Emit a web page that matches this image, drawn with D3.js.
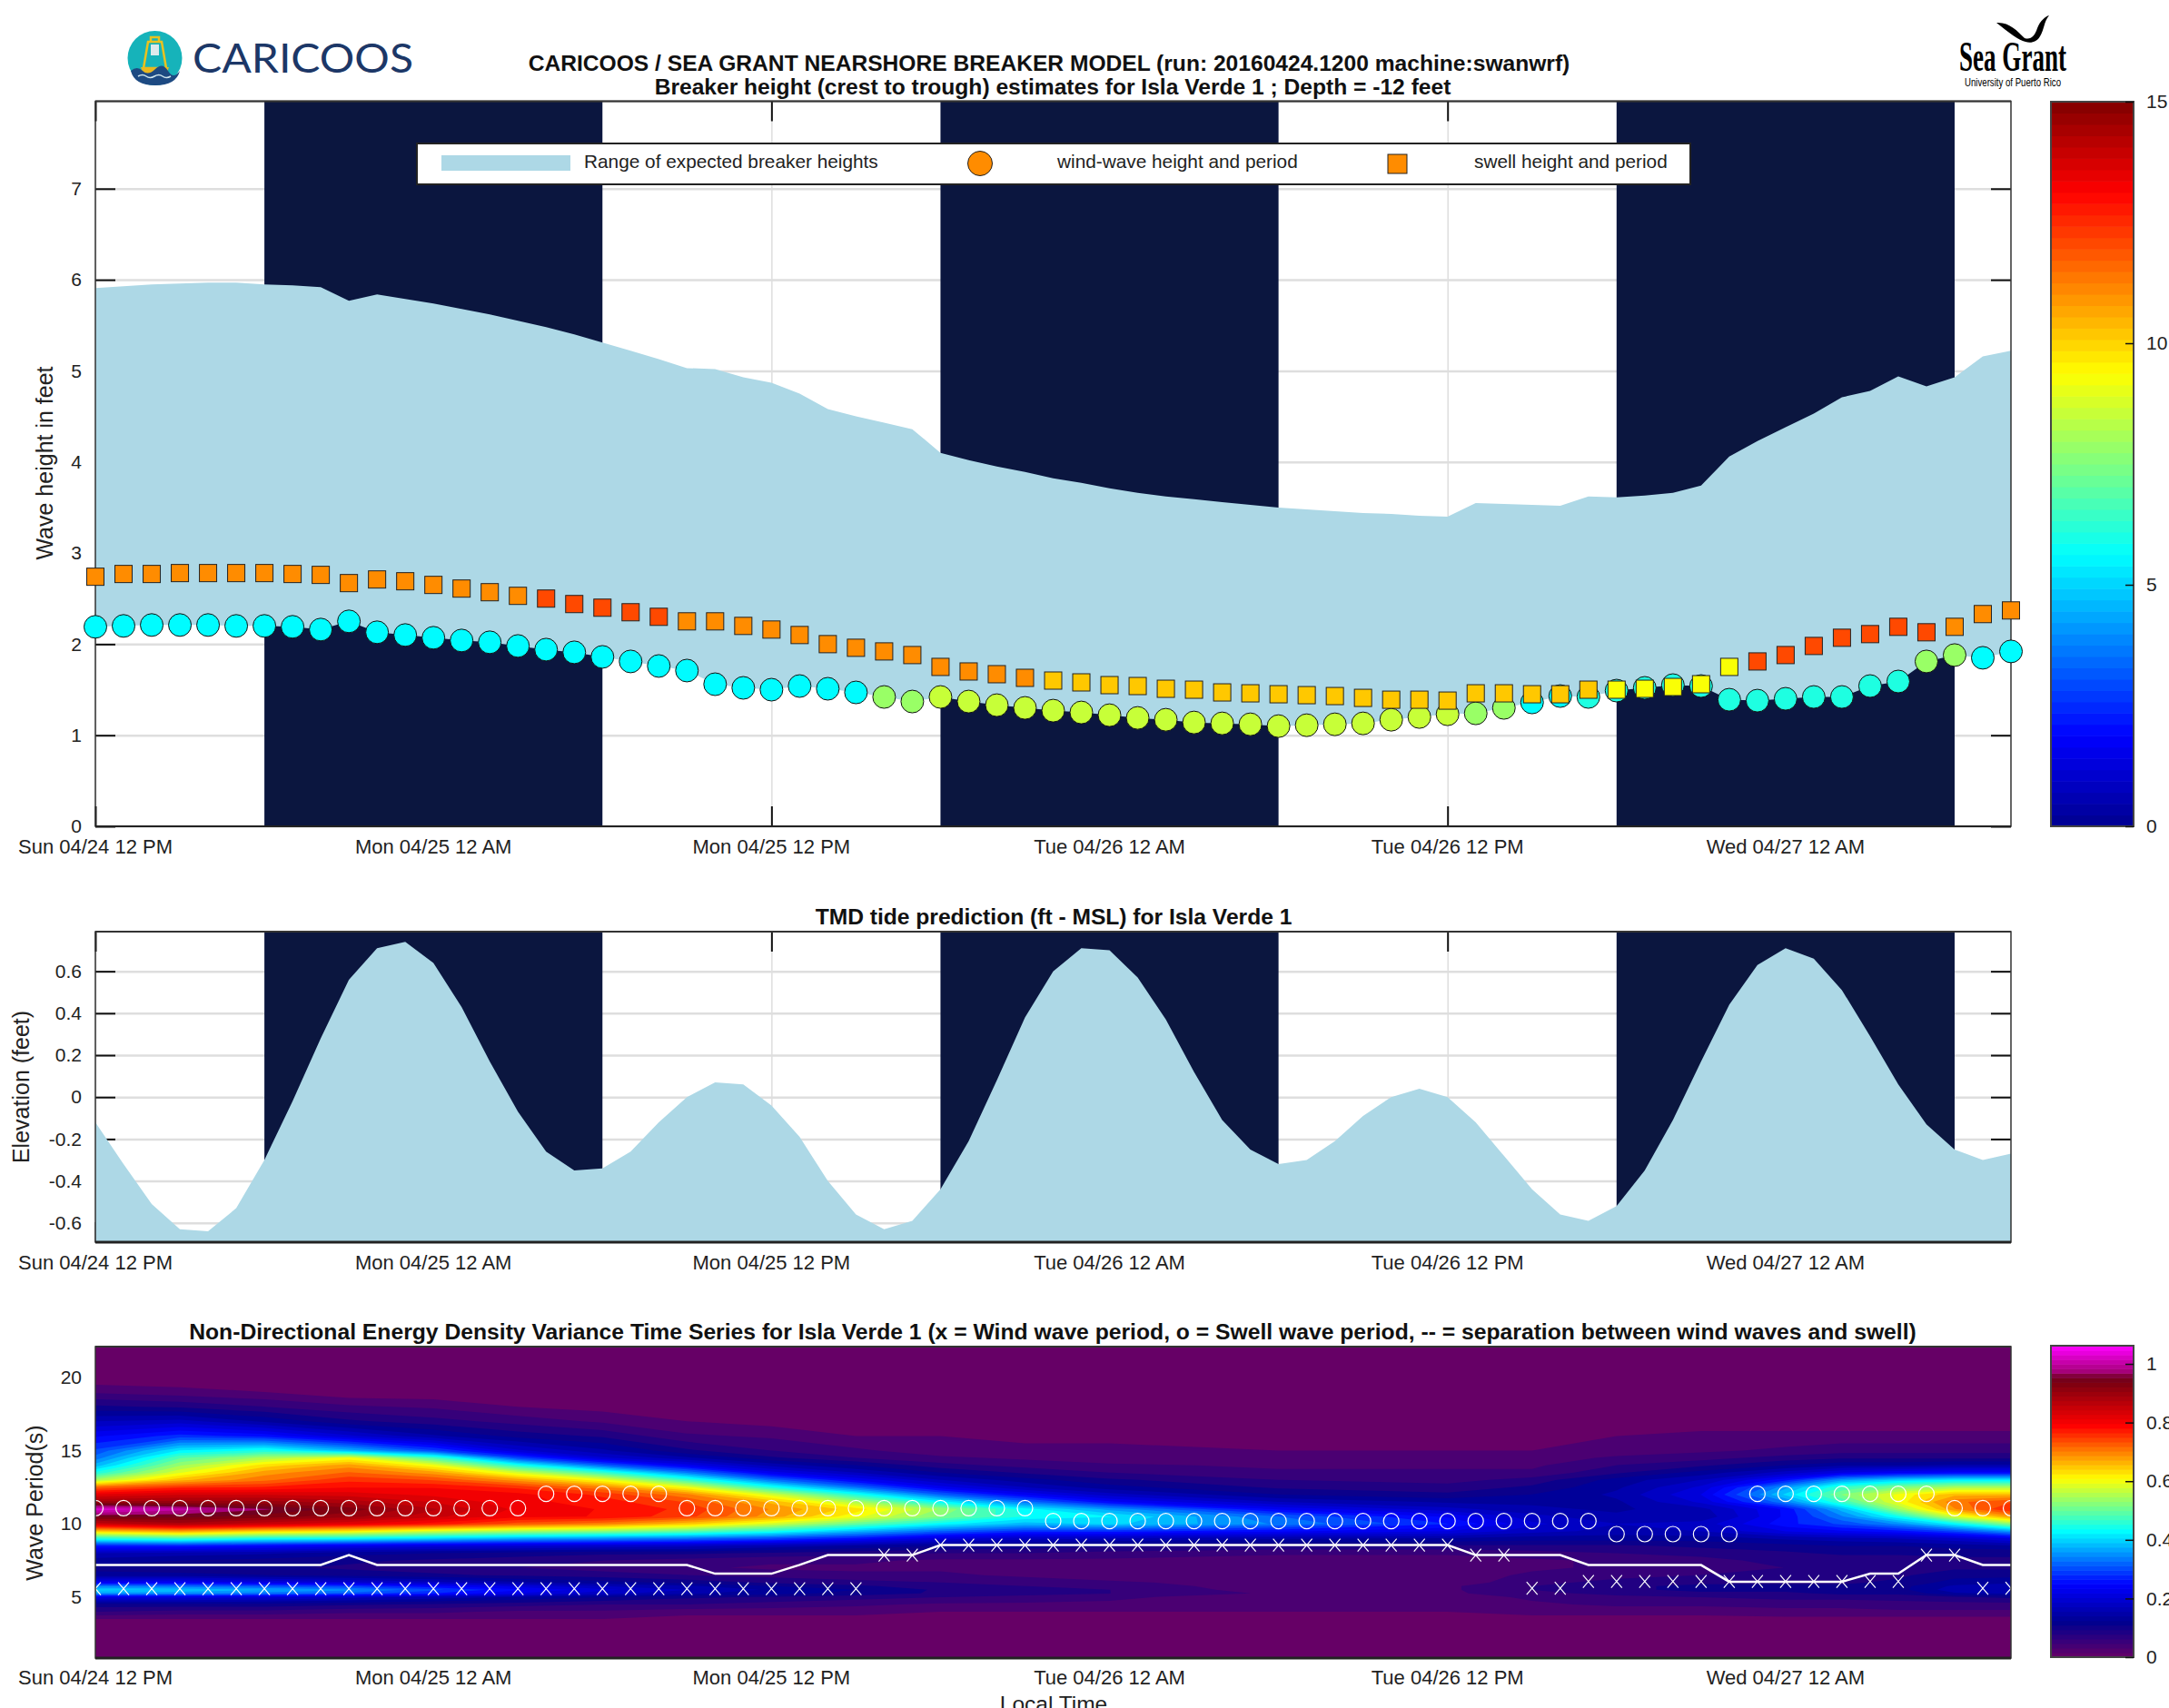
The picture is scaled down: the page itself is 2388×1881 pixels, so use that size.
<!DOCTYPE html>
<html>
<head>
<meta charset="utf-8">
<style>
body { margin: 0; background: #fff; }
text { font-family: "Liberation Sans", Arial, sans-serif; fill: #222; }
.title { font-weight: bold; fill: #111; text-anchor: middle; }
</style>
<script src="https://cdn.jsdelivr.net/npm/d3@7"></script>
</head>
<body>
<svg width="2388" height="1881"></svg>
<script>
// hourly series, hour 0 = Sun 04/24 12 PM
var breakerTop = [
  5.91,5.93,5.95,5.96,5.97,5.97,5.95,5.94,5.92,5.77,
  5.84,5.79,5.74,5.68,5.62,5.55,5.48,5.40,5.31,5.22,
  5.13,5.03,5.02,4.93,4.87,4.75,4.58,4.50,4.43,4.36,
  4.10,4.02,3.95,3.89,3.82,3.77,3.71,3.66,3.62,3.59,
  3.56,3.53,3.50,3.48,3.46,3.44,3.43,3.41,3.40,3.55,
  3.54,3.53,3.52,3.62,3.61,3.63,3.66,3.74,4.06,4.23,
  4.38,4.53,4.71,4.78,4.94,4.83,4.93,5.16,5.22];
var windHeight = [
  2.19,2.20,2.21,2.21,2.21,2.20,2.20,2.19,2.16,2.25,
  2.13,2.10,2.07,2.04,2.02,1.98,1.94,1.91,1.86,1.81,
  1.76,1.71,1.56,1.52,1.50,1.54,1.51,1.47,1.42,1.37,
  1.42,1.37,1.33,1.30,1.27,1.25,1.22,1.19,1.17,1.14,
  1.13,1.12,1.10,1.11,1.12,1.13,1.17,1.20,1.23,1.24,
  1.30,1.36,1.43,1.42,1.49,1.52,1.55,1.54,1.39,1.38,
  1.40,1.42,1.42,1.54,1.59,1.81,1.88,1.85,1.92];
var swellHeight = [
  2.74,2.77,2.77,2.78,2.78,2.78,2.78,2.77,2.76,2.67,
  2.71,2.69,2.65,2.61,2.57,2.53,2.50,2.44,2.40,2.35,
  2.30,2.25,2.25,2.20,2.16,2.10,2.00,1.96,1.92,1.88,
  1.75,1.70,1.67,1.63,1.60,1.58,1.55,1.54,1.51,1.50,
  1.47,1.46,1.45,1.44,1.43,1.41,1.39,1.39,1.38,1.46,
  1.46,1.45,1.45,1.50,1.50,1.51,1.53,1.56,1.75,1.81,
  1.88,1.98,2.07,2.11,2.19,2.13,2.19,2.33,2.37];
var tide = [
  -0.12,-0.32,-0.51,-0.63,-0.64,-0.53,-0.30,-0.02,0.28,0.56,
  0.71,0.74,0.64,0.43,0.17,-0.07,-0.26,-0.35,-0.34,-0.26,
  -0.12,0,0.07,0.06,-0.04,-0.19,-0.40,-0.56,-0.63,-0.59,
  -0.44,-0.21,0.08,0.38,0.60,0.71,0.70,0.57,0.37,0.12,
  -0.11,-0.25,-0.32,-0.30,-0.21,-0.09,0,0.04,0,-0.12,
  -0.28,-0.44,-0.56,-0.59,-0.52,-0.35,-0.11,0.17,0.44,0.63,
  0.71,0.66,0.51,0.29,0.06,-0.13,-0.25,-0.30,-0.27];
var swellPeriod = [
  11.07,11.07,11.07,11.07,11.07,11.07,11.07,11.07,11.07,11.07,
  11.07,11.07,11.07,11.07,11.07,11.07,12.05,12.05,12.05,12.05,
  12.05,11.07,11.07,11.07,11.07,11.07,11.07,11.07,11.07,11.07,
  11.07,11.07,11.07,11.07,10.19,10.19,10.19,10.19,10.19,10.19,
  10.19,10.19,10.19,10.19,10.19,10.19,10.19,10.19,10.19,10.19,
  10.19,10.19,10.19,10.19,9.3,9.3,9.3,9.3,9.3,12.05,
  12.05,12.05,12.05,12.05,12.05,12.05,11.07,11.07,11.07];
var windPeriod = [
  5.58,5.58,5.58,5.58,5.58,5.58,5.58,5.58,5.58,5.58,
  5.58,5.58,5.58,5.58,5.58,5.58,5.58,5.58,5.58,5.58,
  5.58,5.58,5.58,5.58,5.58,5.58,5.58,5.58,7.87,7.87,
  8.55,8.55,8.55,8.55,8.55,8.55,8.55,8.55,8.55,8.55,
  8.55,8.55,8.55,8.55,8.55,8.55,8.55,8.55,8.55,7.87,
  7.87,5.6,5.6,6.07,6.07,6.07,6.07,6.07,6.07,6.07,
  6.07,6.07,6.07,6.07,6.07,7.87,7.87,5.6,5.6];
var separation = [
  7.19,7.19,7.19,7.19,7.19,7.19,7.19,7.19,7.19,7.87,
  7.19,7.19,7.19,7.19,7.19,7.19,7.19,7.19,7.19,7.19,
  7.19,7.19,6.6,6.6,6.6,7.2,7.87,7.87,7.87,7.87,
  8.55,8.55,8.55,8.55,8.55,8.55,8.55,8.55,8.55,8.55,
  8.55,8.55,8.55,8.55,8.55,8.55,8.55,8.55,8.55,7.87,
  7.87,7.87,7.87,7.19,7.19,7.19,7.19,7.19,6.05,6.05,
  6.05,6.05,6.05,6.6,6.6,7.87,7.87,7.19,7.19];

var xTickHours = [0, 12, 24, 36, 48, 60];
var xTickLabels = ["Sun 04/24 12 PM", "Mon 04/25 12 AM", "Mon 04/25 12 PM", "Tue 04/26 12 AM", "Tue 04/26 12 PM", "Wed 04/27 12 AM"];
var nights = [[6, 18], [30, 42], [54, 66]];
var heightTicks = [0, 1, 2, 3, 4, 5, 6, 7];
var tideTicks = [-0.6, -0.4, -0.2, 0, 0.2, 0.4, 0.6];
var periodTicks = [5, 10, 15, 20];

// energy density: one row per spectrum column, one value per entry of specPeriods
var specHours = [0, 3, 6, 9, 12, 15, 18, 21, 24, 27, 30, 33, 36, 42, 48, 51, 54, 57, 60, 62, 64, 66, 68];
var specPeriods = [1, 3, 3.5, 4, 4.5, 5, 5.25, 5.5, 5.75, 6, 6.5, 7, 7.5, 8, 8.5, 9, 9.5, 10, 10.5, 11, 11.5, 12, 12.5, 13, 13.5, 14, 14.5, 15, 16, 17, 18, 19, 20, 22];
var spectrum = [
  [0,0,.02,.07,.11,.22,.36,.4,.34,.24,.13,.11,.13,.17,.27,.45,.65,.85,.95,1.03,.9,.82,.72,.55,.45,.38,.33,.3,.24,.17,.1,.04,0,0],
  [0,0,.02,.06,.11,.21,.35,.39,.33,.24,.13,.1,.12,.16,.27,.47,.68,.88,.95,1,.9,.84,.76,.66,.59,.54,.49,.42,.28,.18,.09,.03,0,0],
  [0,0,.02,.06,.11,.2,.33,.37,.31,.22,.12,.1,.11,.15,.25,.44,.64,.85,.93,.97,.9,.84,.77,.71,.68,.63,.55,.45,.26,.14,.07,.02,0,0],
  [0,0,.02,.05,.1,.18,.31,.35,.29,.2,.11,.09,.1,.13,.23,.43,.62,.82,.9,.93,.88,.83,.79,.76,.72,.68,.6,.38,.2,.1,.05,0,0,0],
  [0,0,.02,.05,.09,.16,.27,.3,.25,.18,.1,.08,.09,.12,.21,.4,.58,.78,.85,.87,.84,.81,.79,.74,.68,.6,.48,.3,.15,.08,.04,0,0,0],
  [0,0,.02,.04,.08,.14,.22,.25,.21,.15,.09,.07,.08,.11,.2,.37,.55,.73,.8,.81,.8,.8,.76,.68,.58,.45,.3,.2,.11,.06,.02,0,0,0],
  [0,0,.02,.04,.07,.12,.18,.2,.17,.13,.08,.06,.07,.1,.19,.35,.53,.7,.79,.79,.78,.76,.7,.6,.47,.32,.2,.15,.09,.04,.01,0,0,0],
  [0,0,.01,.03,.07,.1,.15,.17,.15,.11,.07,.05,.06,.1,.18,.33,.5,.65,.75,.76,.74,.7,.6,.47,.34,.23,.15,.1,.05,.02,0,0,0,0],
  [0,0,.01,.03,.06,.09,.13,.14,.12,.09,.06,.04,.05,.09,.16,.3,.45,.58,.68,.69,.66,.58,.45,.33,.23,.16,.1,.07,.04,.01,0,0,0,0],
  [0,0,.01,.03,.05,.08,.11,.12,.1,.08,.05,.04,.05,.08,.14,.26,.38,.5,.6,.63,.55,.45,.33,.24,.17,.12,.07,.05,.02,0,0,0,0,0],
  [0,0,.01,.02,.04,.07,.09,.09,.08,.07,.05,.04,.04,.07,.12,.21,.32,.43,.52,.54,.43,.32,.23,.17,.12,.08,.05,.03,.02,0,0,0,0,0],
  [0,0,.01,.02,.04,.06,.08,.08,.07,.06,.04,.03,.04,.07,.11,.18,.28,.38,.44,.43,.33,.24,.17,.13,.09,.06,.04,.03,.01,0,0,0,0,0],
  [0,0,.01,.02,.04,.05,.07,.07,.06,.05,.03,.03,.04,.06,.1,.17,.28,.4,.42,.36,.25,.18,.13,.1,.07,.05,.03,.03,.01,0,0,0,0,0],
  [0,0,.01,.02,.03,.03,.04,.03,.03,.03,.02,.02,.03,.05,.09,.15,.25,.34,.32,.24,.17,.12,.09,.07,.05,.04,.03,.02,.01,0,0,0,0,0],
  [0,0,.01,.02,.03,.03,.04,.04,.04,.03,.03,.03,.03,.05,.09,.14,.22,.27,.24,.18,.14,.1,.08,.06,.05,.04,.03,.02,.01,0,0,0,0,0],
  [0,0,.01,.03,.04,.05,.06,.07,.07,.06,.05,.04,.04,.06,.09,.13,.18,.2,.18,.15,.14,.12,.1,.08,.05,.04,.03,.02,.01,0,0,0,0,0],
  [0,0,.01,.03,.05,.06,.08,.09,.09,.08,.06,.05,.05,.07,.09,.13,.16,.17,.15,.14,.14,.15,.14,.13,.09,.07,.05,.03,.02,0,0,0,0,0],
  [0,0,.01,.03,.05,.07,.09,.1,.1,.09,.07,.06,.06,.08,.1,.13,.17,.18,.15,.16,.2,.22,.2,.17,.13,.09,.06,.04,.03,0,0,0,0,0],
  [0,0,.01,.04,.05,.08,.09,.1,.1,.09,.08,.07,.08,.09,.11,.15,.22,.26,.25,.25,.34,.4,.36,.26,.18,.12,.08,.05,.03,0,0,0,0,0],
  [0,0,.01,.04,.05,.08,.1,.1,.1,.09,.08,.08,.08,.1,.12,.16,.24,.3,.34,.38,.47,.52,.47,.36,.22,.14,.09,.06,.03,0,0,0,0,0],
  [0,0,.01,.04,.06,.08,.1,.11,.11,.1,.09,.08,.08,.1,.12,.17,.26,.35,.44,.54,.6,.6,.52,.4,.24,.14,.09,.06,.03,0,0,0,0,0],
  [0,0,.01,.04,.06,.09,.14,.16,.15,.13,.11,.09,.09,.1,.13,.19,.3,.43,.58,.69,.71,.66,.55,.42,.25,.15,.09,.06,.03,0,0,0,0,0],
  [0,0,.01,.04,.06,.1,.15,.17,.16,.14,.11,.09,.09,.1,.14,.22,.36,.53,.68,.77,.74,.66,.55,.42,.25,.15,.09,.06,.03,0,0,0,0,0]
];

var svg = d3.select("svg");
var left = 105, right = 2214;
var x = d3.scaleLinear().domain([0, 68]).range([left, right]);
var hours = d3.range(breakerTop.length);

var yHeight = d3.scaleLinear().domain([0, 7.96]).range([910, 111.5]);
var yTide = d3.scaleLinear().domain([-0.692, 0.789]).range([1368, 1026]);
var yPeriod = d3.scaleLinear().domain([0.84, 22.1]).range([1826, 1483]);

// jet colormap as matlab draws it
var jet = d3.scaleLinear()
  .domain([0, 0.125, 0.375, 0.625, 0.875, 1])
  .range(["#00008f", "#0000ff", "#00ffff", "#ffff00", "#ff0000", "#800000"]);
var specColor = d3.scaleLinear()
  .domain([0, 0.05, 0.12, 0.25, 0.43, 0.52, 0.61, 0.7, 0.79, 0.93, 0.955, 0.97, 1.06])
  .range(["#660066", "#3c0078", "#00008f", "#0000ff", "#00ffff", "#80ff80", "#ffff00", "#ff8000", "#ff0000", "#800010", "#700020", "#a00070", "#ff00ff"]);
function periodColor(p) { return jet(p / 15); }

function axes(yScale, ticks) {
  var g = svg.append("g");
  var fmt = function(d) { return String(d); };
  // grid sits under everything else
  g.append("g").call(d3.axisLeft(yScale).tickValues(ticks).tickSize(-(right - left)).tickFormat(""))
    .attr("transform", "translate(" + left + ",0)")
    .call(function(a) {
      a.select(".domain").remove();
      a.selectAll("line").attr("stroke", "#dedede").attr("stroke-width", 2.5);
    });
  var top = yScale.range()[1], bottom = yScale.range()[0];
  g.append("g").call(d3.axisBottom(x).tickValues(xTickHours).tickSize(-(bottom - top)).tickFormat(""))
    .attr("transform", "translate(0," + bottom + ")")
    .call(function(a) {
      a.select(".domain").remove();
      a.selectAll("line").attr("stroke", "#dedede").attr("stroke-width", 1.5);
    });
  var ticksG = [
    [d3.axisLeft(yScale).tickValues(ticks).tickFormat(fmt), left, 0],
    [d3.axisRight(yScale).tickValues(ticks).tickFormat(""), right, 0],
    [d3.axisBottom(x).tickValues(xTickHours).tickFormat(""), 0, bottom],
    [d3.axisTop(x).tickValues(xTickHours).tickFormat(""), 0, top]
  ];
  ticksG.forEach(function(t) {
    g.append("g").attr("transform", "translate(" + t[1] + "," + t[2] + ")")
      .call(t[0].tickSizeInner(-22).tickSizeOuter(0).tickPadding(15))
      .call(function(a) {
        a.select(".domain").remove();
        a.selectAll("line").attr("stroke", "#111").attr("stroke-width", 2);
        a.selectAll("text").attr("font-size", 21).attr("font-family", "Liberation Sans").attr("fill", "#222");
      });
  });
}

function nightBands(yScale) {
  svg.append("g").selectAll("rect").data(nights).enter().append("rect")
    .attr("x", function(d) { return x(d[0]); })
    .attr("width", function(d) { return x(d[1]) - x(d[0]); })
    .attr("y", yScale.range()[1])
    .attr("height", yScale.range()[0] - yScale.range()[1])
    .attr("fill", "#0b163f");
}

function frame(yScale, extraBottom) {
  var top = yScale.range()[1], bottom = yScale.range()[0];
  svg.append("rect").attr("x", left).attr("y", top)
    .attr("width", right - left).attr("height", bottom - top)
    .attr("fill", "none").attr("stroke", "#333").attr("stroke-width", 1.5);
  svg.append("line").attr("x1", left).attr("x2", right).attr("y1", top).attr("y2", top)
    .attr("stroke", "#333").attr("stroke-width", 2);
  svg.append("line").attr("x1", left).attr("x2", right).attr("y1", bottom).attr("y2", bottom)
    .attr("stroke", "#222").attr("stroke-width", extraBottom);
}

function xLabels(baseline) {
  svg.append("g").selectAll("text").data(xTickHours).enter().append("text")
    .attr("x", function(d) { return x(d); })
    .attr("y", baseline)
    .attr("text-anchor", "middle")
    .attr("font-size", 22)
    .text(function(d, i) { return xTickLabels[i]; });
}

function yTitle(txt, cx, cy) {
  svg.append("text")
    .attr("transform", "translate(" + cx + "," + cy + ") rotate(-90)")
    .attr("text-anchor", "middle")
    .attr("font-size", 25)
    .text(txt);
}

function colorbar(top, bottom, domainTop, colorFn, steps, ticks, fmt) {
  var barX = 2258, barW = 91;
  var y = d3.scaleLinear().domain([0, domainTop]).range([bottom, top]);
  var edges = d3.range(steps + 1).map(function(i) { return i * domainTop / steps; });
  svg.append("g").selectAll("rect").data(edges.slice(0, -1)).enter().append("rect")
    .attr("x", barX).attr("width", barW)
    .attr("y", function(d, i) { return y(edges[i + 1]); })
    .attr("height", function(d, i) { return y(edges[i]) - y(edges[i + 1]) + 0.6; })
    .attr("fill", function(d, i) { return colorFn((edges[i] + edges[i + 1]) / 2); });
  svg.append("rect").attr("x", barX).attr("y", top).attr("width", barW).attr("height", bottom - top)
    .attr("fill", "none").attr("stroke", "#444").attr("stroke-width", 2);
  svg.append("g").attr("transform", "translate(" + (barX + barW) + ",0)")
    .call(d3.axisRight(y).tickValues(ticks).tickFormat(fmt).tickSizeInner(-9).tickSizeOuter(0).tickPadding(14))
    .call(function(a) {
      a.select(".domain").remove();
      a.selectAll("line").attr("stroke", "#111").attr("stroke-width", 1.5);
      a.selectAll("text").attr("font-size", 21).attr("font-family", "Liberation Sans").attr("fill", "#222");
    });
}

// ---- panel 1: breaker heights
axes(yHeight, heightTicks);
nightBands(yHeight);

var breakerArea = d3.area()
  .x(function(d) { return x(d); })
  .y0(function(d) { return yHeight(windHeight[d]); })
  .y1(function(d) { return yHeight(breakerTop[d]); });
svg.append("path").attr("d", breakerArea(hours)).attr("fill", "lightblue");
frame(yHeight, 2);

svg.append("g").selectAll("circle").data(hours).enter().append("circle")
  .attr("cx", function(d) { return x(d); })
  .attr("cy", function(d) { return yHeight(windHeight[d]); })
  .attr("r", 12.5)
  .attr("fill", function(d) { return periodColor(windPeriod[d]); })
  .attr("stroke", "#111").attr("stroke-width", 1);

var squareSize = 19;
svg.append("g").selectAll("rect").data(hours).enter().append("rect")
  .attr("x", function(d) { return x(d) - squareSize / 2; })
  .attr("y", function(d) { return yHeight(swellHeight[d]) - squareSize / 2; })
  .attr("width", squareSize).attr("height", squareSize)
  .attr("fill", function(d) { return periodColor(swellPeriod[d]); })
  .attr("stroke", "#222").attr("stroke-width", 1);

xLabels(940);
yTitle("Wave height in feet", 58, 510);

svg.append("text").attr("class", "title").attr("x", 1155).attr("y", 78).attr("font-size", 24.6)
  .text("CARICOOS / SEA GRANT NEARSHORE BREAKER MODEL (run: 20160424.1200 machine:swanwrf)");
svg.append("text").attr("class", "title").attr("x", 1159).attr("y", 104).attr("font-size", 24.6)
  .text("Breaker height (crest to trough) estimates for Isla Verde 1 ; Depth = -12 feet");

// legend
var legend = svg.append("g");
legend.append("rect").attr("x", 459).attr("y", 158).attr("width", 1402).attr("height", 45)
  .attr("fill", "#fff").attr("stroke", "#222").attr("stroke-width", 2);
legend.append("rect").attr("x", 486).attr("y", 171).attr("width", 142).attr("height", 17).attr("fill", "lightblue");
legend.append("text").attr("x", 643).attr("y", 185).attr("font-size", 20.8).text("Range of expected breaker heights");
legend.append("circle").attr("cx", 1079).attr("cy", 180).attr("r", 13.5)
  .attr("fill", periodColor(11.07)).attr("stroke", "#222");
legend.append("text").attr("x", 1164).attr("y", 185).attr("font-size", 20.8).text("wind-wave height and period");
legend.append("rect").attr("x", 1528).attr("y", 170).attr("width", 21).attr("height", 21)
  .attr("fill", periodColor(11.07)).attr("stroke", "#222");
legend.append("text").attr("x", 1623).attr("y", 185).attr("font-size", 20.8).text("swell height and period");

colorbar(112, 910, 15, function(v) { return jet(v / 15); }, 64, [0, 5, 10, 15], function(d) { return String(d); });

// ---- panel 2: tide
axes(yTide, tideTicks);
nightBands(yTide);
var tideArea = d3.area()
  .x(function(d) { return x(d); })
  .y0(yTide.range()[0])
  .y1(function(d) { return yTide(tide[d]); });
svg.append("path").attr("d", tideArea(hours)).attr("fill", "lightblue");
frame(yTide, 3);
xLabels(1398);
yTitle("Elevation (feet)", 32, 1197);
svg.append("text").attr("class", "title").attr("x", 1160).attr("y", 1018).attr("font-size", 24.6)
  .text("TMD tide prediction (ft - MSL) for Isla Verde 1");

// ---- panel 3: energy density contours
var nx = specHours.length, ny = specPeriods.length;
var flat = [];
for (var j = 0; j < ny; j++) {
  for (var i = 0; i < nx; i++) flat.push(spectrum[i][j]);
}
var levels = d3.range(0.02, 1.07, 0.0249);
var contours = d3.contours().size([nx, ny]).thresholds(levels)(flat);
// contour grid index to data value, grid points sit at index + 0.5
var hourAt = d3.scaleLinear().domain(d3.range(nx)).range(specHours).clamp(true);
var periodAt = d3.scaleLinear().domain(d3.range(ny)).range(specPeriods).clamp(true);
var specPath = d3.geoPath(d3.geoTransform({
  point: function(cx, cy) {
    this.stream.point(x(hourAt(cx - 0.5)), yPeriod(periodAt(cy - 0.5)));
  }
}));

svg.append("clipPath").attr("id", "specClip").append("rect")
  .attr("x", left).attr("y", yPeriod.range()[1])
  .attr("width", right - left).attr("height", yPeriod.range()[0] - yPeriod.range()[1]);

var spec = svg.append("g").attr("clip-path", "url(#specClip)");
spec.append("rect").attr("x", left).attr("y", yPeriod.range()[1])
  .attr("width", right - left).attr("height", yPeriod.range()[0] - yPeriod.range()[1])
  .attr("fill", specColor(0));
spec.selectAll("path").data(contours).enter().append("path")
  .attr("d", specPath)
  .attr("fill", function(d) { return specColor(d.value + 0.012); });

var sepLine = d3.line()
  .x(function(d) { return x(d); })
  .y(function(d) { return yPeriod(separation[d]); });
spec.append("path").attr("d", sepLine(hours)).attr("fill", "none")
  .attr("stroke", "#fff").attr("stroke-width", 2.5);

spec.append("g").selectAll("circle").data(hours).enter().append("circle")
  .attr("cx", function(d) { return x(d); })
  .attr("cy", function(d) { return yPeriod(swellPeriod[d]); })
  .attr("r", 8.5)
  .attr("fill", "none").attr("stroke", "#fff").attr("stroke-width", 1.2);

spec.append("g").selectAll("path").data(hours).enter().append("path")
  .attr("transform", function(d) { return "translate(" + x(d) + "," + yPeriod(windPeriod[d]) + ")"; })
  .attr("d", "M-6,-7L6,7M-6,7L6,-7")
  .attr("fill", "none").attr("stroke", "#fff").attr("stroke-width", 1.2);

frame(yPeriod, 3);

svg.append("g").attr("transform", "translate(" + left + ",0)")
  .call(d3.axisLeft(yPeriod).tickValues(periodTicks).tickSize(0).tickPadding(15).tickFormat(function(d) { return String(d); }))
  .call(function(a) {
    a.select(".domain").remove();
    a.selectAll("text").attr("font-size", 21).attr("font-family", "Liberation Sans").attr("fill", "#222");
  });
xLabels(1855);
yTitle("Wave Period(s)", 47, 1655);
svg.append("text").attr("class", "title").attr("x", 1159).attr("y", 1475).attr("font-size", 24.7)
  .text("Non-Directional Energy Density Variance Time Series for Isla Verde 1 (x = Wind wave period, o = Swell wave period, -- = separation between wind waves and swell)");
svg.append("text").attr("x", 1160).attr("y", 1885).attr("text-anchor", "middle").attr("font-size", 24.5).text("Local Time");

colorbar(1482, 1825, 1.062, specColor, 68, [0, 0.2, 0.4, 0.6, 0.8, 1], function(d) { return String(d); });

// ---- logos
var caricoos = svg.append("g");
caricoos.append("circle").attr("cx", 170.5).attr("cy", 64).attr("r", 30).attr("fill", "#16b3ba");
caricoos.append("path").attr("d", "M166,41h9v5h-9zM163,46h15l5,29h-25z").attr("fill", "none").attr("stroke", "#e9c21f").attr("stroke-width", 2.5);
caricoos.append("rect").attr("x", 166).attr("y", 49).attr("width", 9).attr("height", 12).attr("fill", "#dfe9ec");
caricoos.append("path").attr("d", "M155,74h31l-3,8h-25z").attr("fill", "#e9b81f");
caricoos.append("path").attr("d", "M144,78q7,-6 13,0t14,-2t14,2t13,0q-4,16 -27,16t-27,-16z").attr("fill", "#1d4a82");
caricoos.append("path").attr("d", "M152,84q5,-3 9,0t9,0t9,0t9,0").attr("fill", "none").attr("stroke", "#cfe6ee").attr("stroke-width", 1.5);
caricoos.append("text").attr("x", 212).attr("y", 80).attr("font-size", 44)
  .attr("textLength", 243).attr("lengthAdjust", "spacingAndGlyphs")
  .style("font-family", "Lato").style("fill", "#1c3767").text("CARICOOS");

var seaGrant = svg.append("g");
seaGrant.append("path")
  .attr("d", "M2198,25C2212,24 2221,34 2229,42C2236,44 2240,40 2243,31C2246,23 2252,18 2256,17C2250,24 2251,32 2246,40C2243,46 2236,48 2230,46C2222,44 2212,36 2198,25Z")
  .attr("fill", "#000");
seaGrant.append("text").attr("x", 2157).attr("y", 78).attr("font-size", 46)
  .attr("textLength", 118).attr("lengthAdjust", "spacingAndGlyphs")
  .style("font-family", "Liberation Serif").style("font-weight", "bold").style("fill", "#000").text("Sea Grant");
seaGrant.append("text").attr("x", 2163).attr("y", 95).attr("font-size", 13)
  .attr("textLength", 106).attr("lengthAdjust", "spacingAndGlyphs")
  .style("fill", "#000").text("University of Puerto Rico");
</script>
</body>
</html>
